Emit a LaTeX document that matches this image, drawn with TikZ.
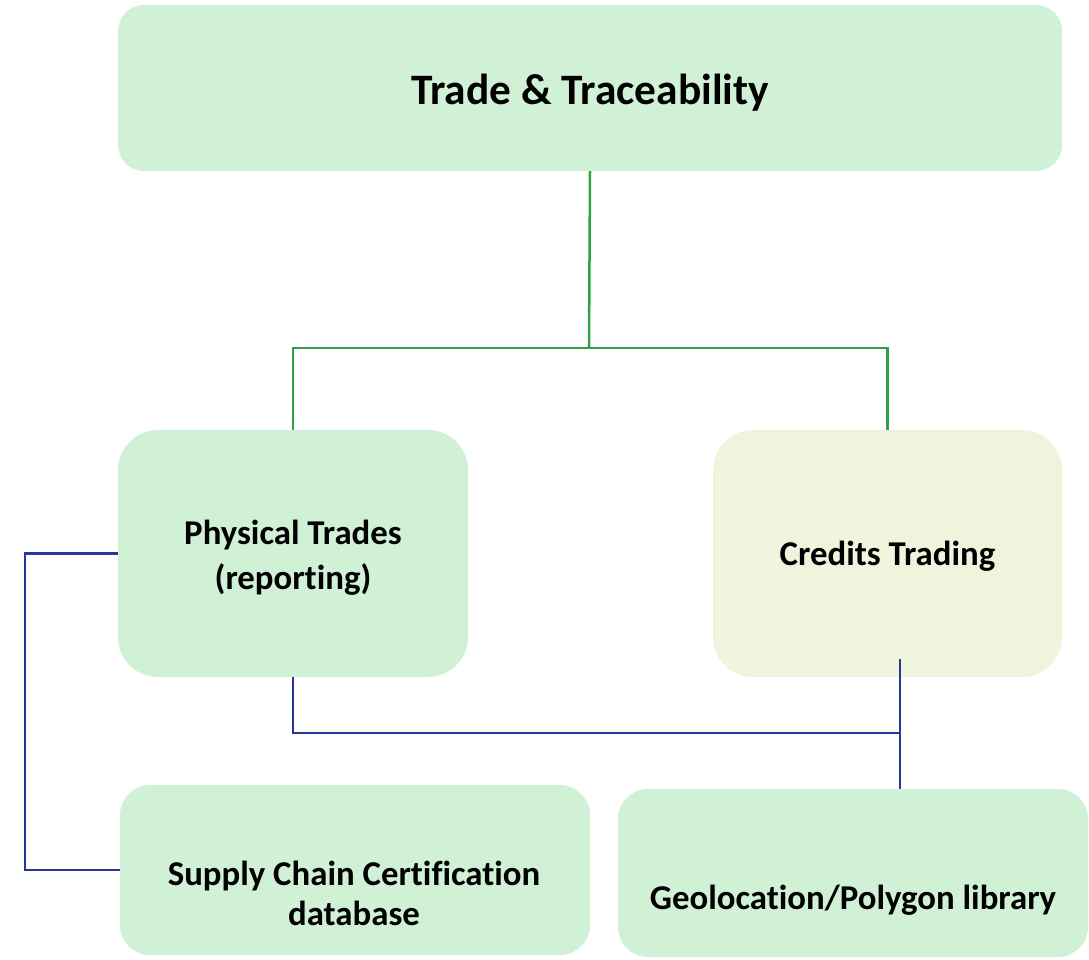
\documentclass[tikz,border=0pt]{standalone}
\usepackage{fontspec}
\setmainfont[Ligatures=NoCommon]{Carlito}
\definecolor{boxgreen}{RGB}{208,241,214}
\definecolor{boxyellow}{RGB}{239,245,220}
\definecolor{linegreen}{RGB}{46,160,70}
\definecolor{lineblue}{RGB}{40,55,150}
\tikzset{
  box/.style={fill=boxgreen, draw=none, inner sep=0pt, align=center},
  glink/.style={draw=linegreen, line width=2.5pt},
  blink/.style={draw=lineblue, line width=2.5pt},
  lbl/.style={inner sep=0pt, align=center, font=\fontsize{34.8}{40}\selectfont\bfseries},
}
\begin{document}
\begin{tikzpicture}[x=1pt,y=-1pt]
\useasboundingbox (0,0) rectangle (1089,959);
% boxes
\node[box, rounded corners=26pt, minimum width=944pt, minimum height=166pt] (top) at (590,88) {};
\node[inner sep=0pt, font=\fontsize{43.4}{50}\selectfont\bfseries] (topt) at (590,93) {Trade \& Traceability};
\node[box, rounded corners=40pt, minimum width=350pt, minimum height=247pt] (phys) at (293,553.5) {};
\node[inner sep=0pt, align=center, font=\fontsize{34.8}{45}\selectfont\bfseries] (physt) at (293,557.5) {Physical Trades\\(reporting)};
\node[box, fill=boxyellow, rounded corners=40pt, minimum width=349pt, minimum height=247pt] (cred) at (887.5,553.5) {};
\node[lbl] (credt) at (887.5,556.5) {Credits Trading};
\node[box, rounded corners=30pt, minimum width=470pt, minimum height=170pt] (supply) at (355,870) {};
\node[box, rounded corners=30pt, minimum width=470pt, minimum height=168pt] (geo) at (853,873) {};
\node[lbl] (supplyt) at (354,893) {Supply Chain Certification\\database};
\node[lbl] (geot) at (853,900) {Geolocation/Polygon library};
% green connectors
\coordinate (gj) at (589,348);
\draw[glink] (top.south) -- (gj);
\draw[glink] (phys.north) |- (gj) -| (cred.north);
% blue connectors
\draw[blink] (phys.west) -- ++(-93,0) |- (supply.west);
\coordinate (cb) at (900,659);
\coordinate (bj) at (900,733);
\draw[blink] (cb) -- (cb |- geo.north);
\draw[blink] (phys.south) |- (bj);
\end{tikzpicture}
\end{document}
